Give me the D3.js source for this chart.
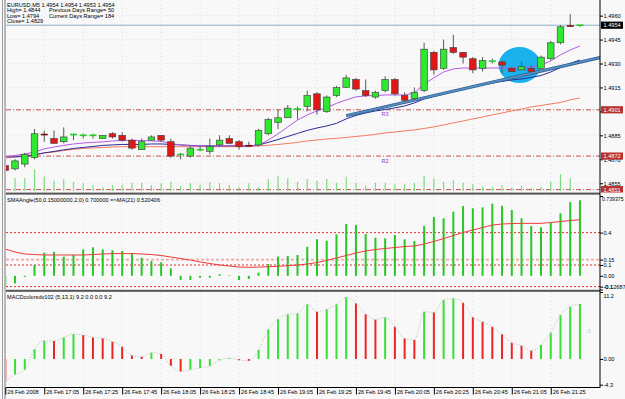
<!DOCTYPE html>
<html>
<head>
<meta charset="utf-8">
<script src="https://cdn.jsdelivr.net/npm/d3@7"></script>
<style>
body {margin:0; background:#f8f8f8;}
svg text {font-family:"Liberation Sans", Arial, sans-serif; font-size:5.6px; fill:#000;}
</style>
</head>
<body>
<svg width="625" height="399"></svg>
<script>
// --- data (EURUSD M5, 26 Feb 2008) ---
var opens  = [1.4866,1.4864,1.4867,1.4871,1.4886,1.4883,1.4881,1.4885,1.4885,1.4885,
              1.4883,1.4886,1.4885,1.4882,1.4876,1.4882,1.4885,1.4881,1.4873,1.4872,
              1.4876,1.4875,1.4879,1.4883,1.4881,1.4879,1.4879,1.4886,1.4893,1.4896,
              1.4901,1.4903,1.4911,1.4900,1.4910,1.4915,1.4920,1.4913,1.4909,1.4913,
              1.4920,1.4910,1.4908,1.4913,1.4937,1.4927,1.4940,1.4937,1.4933,1.4927,
              1.4931,1.4931,1.4927,1.4926,1.4927,1.4927,1.4933,1.4943,1.4954,1.4954];
var highs  = [1.4867,1.4870,1.4874,1.4889,1.4888,1.4888,1.4890,1.4886,1.4886,1.4886,
              1.4885,1.4887,1.4887,1.4883,1.4883,1.4885,1.4885,1.4883,1.4874,1.4878,
              1.4878,1.4883,1.4885,1.4885,1.4882,1.4881,1.4889,1.4896,1.4901,1.4904,
              1.4903,1.4913,1.4912,1.4910,1.4916,1.4923,1.4921,1.4920,1.4913,1.4922,
              1.4921,1.4912,1.4915,1.4943,1.4938,1.4945,1.4948,1.4937,1.4934,1.4934,
              1.4933,1.4932,1.4928,1.4931,1.4929,1.4935,1.4944,1.4954,1.4961,1.4954];
var lows   = [1.4862,1.4863,1.4865,1.4870,1.4881,1.4880,1.4880,1.4882,1.4883,1.4883,
              1.4883,1.4883,1.4881,1.4876,1.4876,1.4882,1.4881,1.4871,1.4870,1.4871,
              1.4875,1.4873,1.4878,1.4880,1.4876,1.4878,1.4878,1.4885,1.4889,1.4896,
              1.4895,1.4900,1.4898,1.4899,1.4909,1.4915,1.4913,1.4909,1.4908,1.4912,
              1.4910,1.4906,1.4907,1.4912,1.4923,1.4926,1.4936,1.4930,1.4924,1.4925,
              1.4930,1.4924,1.4925,1.4926,1.4925,1.4926,1.4932,1.4942,1.4953,1.4953];
var closes = [1.4863,1.4869,1.4873,1.4886,1.4885,1.4880,1.4884,1.4886,1.4885,1.4885,
              1.4885,1.4884,1.4882,1.4877,1.4881,1.4884,1.4882,1.4872,1.4873,1.4877,
              1.4876,1.4878,1.4882,1.4880,1.4878,1.4878,1.4888,1.4895,1.4896,1.4902,
              1.4902,1.4910,1.4901,1.4909,1.4915,1.4921,1.4914,1.4910,1.4912,1.4920,
              1.4911,1.4907,1.4912,1.4939,1.4926,1.4939,1.4937,1.4934,1.4926,1.4932,
              1.4932,1.4929,1.4925,1.4928,1.4925,1.4934,1.4943,1.4953,1.4953,1.4954];
var volumes = [57,52,52,87,57,41,47,37,31,24,15,24,24,33,33,24,31,37,20,31,
               24,35,31,24,17,31,17,47,60,51,37,48,40,48,33,57,33,21,33,33,
               27,28,33,61,51,37,44,33,27,17,17,24,15,21,13,17,37,68,51,4];
var maFast = [1.48715,1.48724,1.48733,1.48746,1.48765,1.48777,1.48787,1.48796,1.48802,1.48806,
              1.48809,1.48815,1.48818,1.48818,1.48818,1.48815,1.48812,1.48799,1.48790,1.48784,
              1.48784,1.48780,1.48784,1.48787,1.48787,1.48784,1.48787,1.48821,1.48859,1.48903,
              1.48946,1.48978,1.49003,1.49025,1.49050,1.49072,1.49091,1.49097,1.49100,1.49103,
              1.49103,1.49103,1.49116,1.49172,1.49210,1.49247,1.49266,1.49272,1.49272,1.49272,
              1.49272,1.49272,1.49272,1.49275,1.49279,1.49291,1.49316,1.49354,1.49385,1.49410];
var maMid  = [1.48715,1.48715,1.48718,1.48727,1.48740,1.48749,1.48759,1.48768,1.48774,1.48780,
              1.48787,1.48790,1.48793,1.48793,1.48793,1.48796,1.48796,1.48793,1.48790,1.48787,
              1.48784,1.48784,1.48784,1.48784,1.48784,1.48784,1.48790,1.48806,1.48824,1.48843,
              1.48862,1.48881,1.48896,1.48909,1.48925,1.48953,1.48975,1.48990,1.49003,1.49012,
              1.49022,1.49034,1.49053,1.49078,1.49094,1.49109,1.49125,1.49141,1.49153,1.49166,
              1.49178,1.49188,1.49197,1.49203,1.49213,1.49225,1.49247,1.49275,1.49301,1.49322];
var maSlow = [1.48708,1.48715,1.48721,1.48730,1.48740,1.48746,1.48755,1.48762,1.48768,1.48771,
              1.48774,1.48777,1.48779,1.48779,1.48779,1.48779,1.48779,1.48779,1.48779,1.48779,
              1.48779,1.48779,1.48779,1.48779,1.48779,1.48779,1.48784,1.48788,1.48793,1.48799,
              1.48806,1.48815,1.48821,1.48827,1.48831,1.48837,1.48843,1.48849,1.48856,1.48865,
              1.48871,1.48878,1.48884,1.48893,1.48903,1.48915,1.48928,1.48940,1.48953,1.48965,
              1.48978,1.48990,1.49003,1.49015,1.49028,1.49037,1.49047,1.49056,1.49072,1.49084];
var angle  = [-0.09,-0.07,-0.01,0.10,0.214,0.223,0.177,0.193,0.245,0.264,
              0.245,0.236,0.23,0.208,0.168,0.137,0.125,0.069,-0.039,-0.039,
              -0.018,-0.018,0.014,0.005,-0.039,-0.03,0.029,0.109,0.177,0.183,
              0.193,0.269,0.338,0.325,0.384,0.48,0.47,0.387,0.353,0.347,
              0.378,0.338,0.322,0.461,0.544,0.532,0.594,0.646,0.625,0.634,
              0.668,0.649,0.609,0.532,0.461,0.449,0.495,0.579,0.683,0.70];
var angleMA = [0.248,0.220,0.202,0.197,0.193,0.193,0.193,0.193,0.193,0.197,
               0.202,0.206,0.206,0.206,0.202,0.197,0.188,0.174,0.160,0.146,
               0.128,0.114,0.100,0.091,0.081,0.079,0.081,0.084,0.088,0.094,
               0.100,0.109,0.123,0.142,0.165,0.188,0.211,0.230,0.244,0.253,
               0.262,0.271,0.276,0.294,0.318,0.345,0.373,0.401,0.424,0.447,
               0.470,0.480,0.484,0.486,0.486,0.486,0.494,0.503,0.512,0.520];
var macd   = [-3.8,-2.6,-1.8,1.67,3.06,3.0,3.63,4.18,4.0,3.63,
              3.46,2.9,2.06,0.61,0.39,1.06,0.84,-1.17,-2.1,-1.8,
              -1.5,-1.2,-0.2,0.15,-0.2,-0.3,1.5,4.96,6.69,7.47,
              7.6,9.15,7.9,8.3,9.15,10.3,9.3,7.5,6.6,6.95,
              5.4,3.46,3.18,7.9,7.8,9.87,10.15,9.4,6.97,6.24,
              5.4,4.13,2.73,2.23,1.39,2.34,4.4,7.36,8.75,9.2];

var timeTickBars = [0,4,8,12,16,20,24,28,32,36,40,44,48,52,56];
var timeTickLabels = ["26 Feb 2008","26 Feb 17:05","26 Feb 17:25","26 Feb 17:45","26 Feb 18:05",
                      "26 Feb 18:25","26 Feb 18:45","26 Feb 19:05","26 Feb 19:25","26 Feb 19:45",
                      "26 Feb 20:05","26 Feb 20:25","26 Feb 20:45","26 Feb 21:05","26 Feb 21:25"];
var priceTicks = [1.4960,1.4945,1.4930,1.4915,1.4900,1.4885,1.4870,1.4855];
var priceTickLabels = ["1.4960","1.4945","1.4930","1.4915","","1.4885","1.4870","1.4855"];
var angleTicks = [0.739375,0.4,0.15,0.1,0,-0.1,-0.12687];
var angleTickLabels = ["0.739375","0.4","0.15","0.1","0.00","-0.1","-0.12687"];
var macdTicks = [11.2,0,-4.3];
var macdTickLabels = ["11.2","0.00","-4.3"];
var pivotLevels = [1.4901,1.4872,1.4851];
var pivotNames = ["R3","R2",""];
var bidPrice = 1.4954;
var trendFrom = {bar:35, price:1.48973}, trendTo = {bar:55, price:1.49253};
var marker = {bar:52.8, price:1.4929};
var headerLines = ["EURUSD,M5  1.4954 1.4954 1.4953 1.4954","High= 1.4844","Low= 1.4794","Close= 1.4829"];
var headerRight = ["","Previous Days Range= 50","Current Days Range= 184",""];

// --- layout ---
var svg = d3.select("svg");
var L = 6, R = 600;
var x = d3.scaleLinear().domain([0,59]).range([5.3, 5.3 + 59*9.74]);
var yMain = d3.scaleLinear().domain([1.48495,1.49698]).range([192,0]);
var yVol = d3.scaleLinear().domain([0,100]).range([191,166]);
var yAng = d3.scaleLinear().domain([-0.12687,0.739375]).range([289.5,196]);
var yMacd = d3.scaleLinear().domain([-4.3,11.2]).range([384.7,292]);
var idx = d3.range(opens.length);

svg.append("rect").attr("width",625).attr("height",399).attr("fill","#f8f8f8");
svg.append("clipPath").attr("id","plot").append("rect")
   .attr("x",L).attr("y",0).attr("width",R-L).attr("height",388);
svg.append("clipPath").attr("id","mainpanel").append("rect")
   .attr("x",0).attr("y",0).attr("width",625).attr("height",192.5);

// faint dotted grid
var grid = svg.append("g").attr("stroke","#dedede").attr("stroke-dasharray","1,3").attr("stroke-width",1);
timeTickBars.forEach(function(b){
  grid.append("line").attr("x1",x(b)).attr("x2",x(b)).attr("y1",0).attr("y2",387);
});
priceTicks.forEach(function(p){
  grid.append("line").attr("x1",L).attr("x2",R).attr("y1",yMain(p)).attr("y2",yMain(p));
});

var plot = svg.append("g").attr("clip-path","url(#plot)");

// marker ellipse (drawn behind price)
plot.append("ellipse").attr("cx",x(marker.bar)).attr("cy",yMain(marker.price))
    .attr("rx",21).attr("ry",18).attr("fill","#1ab2ea");

// bid line
plot.append("line").attr("x1",L).attr("x2",R).attr("y1",yMain(bidPrice)).attr("y2",yMain(bidPrice))
    .attr("stroke","#8fb0cc").attr("stroke-width",1);

// pivot levels
pivotLevels.forEach(function(p,i){
  plot.append("line").attr("x1",L).attr("x2",R).attr("y1",yMain(p)).attr("y2",yMain(p))
      .attr("stroke","#c85050").attr("stroke-width",1).attr("stroke-dasharray","5,2,1,2");
  if (pivotNames[i]) plot.append("text").attr("x",x(39)).attr("y",yMain(p)+6.5)
      .attr("text-anchor","middle").style("fill","#8a3ec8").text(pivotNames[i]);
});

// volumes
plot.selectAll(".vol").data(idx).enter().append("line")
    .attr("x1",function(i){return x(i);}).attr("x2",function(i){return x(i);})
    .attr("y1",yVol(0)).attr("y2",function(i){return yVol(volumes[i]);})
    .attr("stroke","#7ddc7d").attr("stroke-width",1.2);

// moving averages
function maLine(arr){ return d3.line().x(function(d,i){return x(i);}).y(function(d){return yMain(d);})(arr); }
plot.append("path").attr("d",maLine(maSlow)).attr("fill","none").attr("stroke","#f47a62").attr("stroke-width",1);
plot.append("path").attr("d",maLine(maMid)).attr("fill","none").attr("stroke","#2a2a96").attr("stroke-width",1);
plot.append("path").attr("d",maLine(maFast)).attr("fill","none").attr("stroke","#b45ae6").attr("stroke-width",1);

// trend line (ray to the right edge)
var slope = (trendTo.price - trendFrom.price)/(trendTo.bar - trendFrom.bar);
var endBar = x.invert(R);
plot.append("line").attr("x1",x(trendFrom.bar)).attr("y1",yMain(trendFrom.price))
    .attr("x2",R).attr("y2",yMain(trendFrom.price + slope*(endBar - trendFrom.bar)))
    .attr("stroke","#2a5f96").attr("stroke-width",3.2);
plot.append("line").attr("x1",x(trendFrom.bar)).attr("y1",yMain(trendFrom.price))
    .attr("x2",R).attr("y2",yMain(trendFrom.price + slope*(endBar - trendFrom.bar)))
    .attr("stroke","#5a90c4").attr("stroke-width",1.6);

// candles
var cg = plot.selectAll(".candle").data(idx).enter().append("g");
cg.append("line")
  .attr("x1",function(i){return x(i);}).attr("x2",function(i){return x(i);})
  .attr("y1",function(i){return yMain(highs[i]);}).attr("y2",function(i){return yMain(lows[i]);})
  .attr("stroke","#5a5a5a").attr("stroke-width",1);
cg.each(function(i){
  var g = d3.select(this);
  var top = yMain(Math.max(opens[i],closes[i])), bot = yMain(Math.min(opens[i],closes[i]));
  var up = closes[i] >= opens[i];
  if (bot - top < 2) {
    g.append("line").attr("x1",x(i)-3.5).attr("x2",x(i)+3.5)
     .attr("y1",(top+bot)/2).attr("y2",(top+bot)/2)
     .attr("stroke", up ? "#22d022" : "#7a0c0c").attr("stroke-width",1.6);
  } else {
    g.append("rect").attr("x",x(i)-3.3).attr("width",6.6).attr("y",top).attr("height",bot-top)
     .attr("fill", up ? "#2fe82f" : "#e31616").attr("stroke","#3c3c3c").attr("stroke-width",0.6);
  }
});

// indicator 1: SMAAngle histogram + MA(21)
var ag = svg.append("g").attr("clip-path","url(#plot)");
[[0.4,"#e03030",1,"2,2"],[0.15,"#f2a8a8",1.6,"3,2"],[0.1,"#e03030",1,"2,2"],[-0.1,"#e03030",1,"2,2"]].forEach(function(l){
  ag.append("line").attr("x1",L).attr("x2",R).attr("y1",yAng(l[0])).attr("y2",yAng(l[0]))
    .attr("stroke",l[1]).attr("stroke-width",l[2]).attr("stroke-dasharray",l[3]);
});
ag.selectAll(".ab").data(idx).enter().append("line")
  .attr("x1",function(i){return x(i);}).attr("x2",function(i){return x(i);})
  .attr("y1",yAng(0)).attr("y2",function(i){return yAng(angle[i]);})
  .attr("stroke","#26c626").attr("stroke-width",2);
ag.append("path").attr("d",d3.line().x(function(d,i){return x(i);}).y(function(d){return yAng(d);})(angleMA))
  .attr("fill","none").attr("stroke","#ee3a3a").attr("stroke-width",1);

// indicator 2: MACD colored histogram
var mg = svg.append("g").attr("clip-path","url(#plot)");
mg.selectAll(".mb").data(idx).enter().append("line")
  .attr("x1",function(i){return x(i);}).attr("x2",function(i){return x(i);})
  .attr("y1",yMacd(0)).attr("y2",function(i){return yMacd(macd[i]);})
  .attr("stroke",function(i){return i > 0 && macd[i] >= macd[i-1] ? "#36e036" : "#ee2424";})
  .attr("stroke-width",2);
mg.append("path").attr("d",d3.line().x(function(d,i){return x(i);}).y(function(d){return yMacd(d);}).curve(d3.curveMonotoneX)(macd))
  .attr("fill","none").attr("stroke","#c4c4c4").attr("stroke-width",1).attr("stroke-dasharray","1.2,1.6");
mg.append("text").attr("x",586).attr("y",yMacd(4.3)).style("fill","#c8c8c8").text("-3");

// axes text helpers
function rightAxis(scale, ticks, labels){
  var g = svg.append("g").attr("transform","translate(" + R + ",0)")
    .call(d3.axisRight(scale).tickValues(ticks).tickSize(3)
      .tickFormat(function(d,i){ return labels[i]; }));
  g.select(".domain").remove();
  g.selectAll("text").attr("x",3.5).style("font-family","Liberation Sans, Arial").style("font-size","5.6px");
  return g;
}
rightAxis(yMain, priceTicks, priceTickLabels);
var a2 = rightAxis(yAng, angleTicks, angleTickLabels);
a2.selectAll("text")
  .attr("dy",function(d){ return d > 0.7 ? "0.8em" : (d < -0.11 ? "-0.2em" : "0.32em"); })
  .attr("x",function(d){ return d > 0.7 ? 2 : 3.5; })
  .style("font-size",function(d){ return d > 0.7 ? "5.2px" : "5.6px"; });
var a3 = rightAxis(yMacd, macdTicks, macdTickLabels);
a3.selectAll("text").attr("dy",function(d){ return d > 11 ? "0.95em" : "0.32em"; });

// price boxes (clipped to the main panel)
var boxes = svg.append("g").attr("clip-path","url(#mainpanel)");
function priceBox(p, fill){
  var yy = yMain(p);
  boxes.append("rect").attr("x",R+1).attr("y",yy-3.6).attr("width",22).attr("height",7.2).attr("fill",fill);
  boxes.append("text").attr("x",R+3.5).attr("y",yy+2).style("fill","#fff").text(d3.format(".4f")(p));
}
priceBox(bidPrice,"#000");
pivotLevels.forEach(function(p){ priceBox(p,"#b83030"); });

// frame, separators
svg.append("line").attr("x1",2.5).attr("x2",2.5).attr("y1",0).attr("y2",399).attr("stroke","#9a9a9a");
svg.append("line").attr("x1",5).attr("x2",5).attr("y1",0).attr("y2",399).attr("stroke","#7a7a7a");
[193.6,290.8].forEach(function(yy){
  svg.append("rect").attr("x",L).attr("y",yy-1).attr("width",R-L).attr("height",2).attr("fill","#555");
});
svg.append("line").attr("x1",R).attr("x2",R).attr("y1",0).attr("y2",388).attr("stroke","#000");
svg.append("line").attr("x1",L).attr("x2",R).attr("y1",387.5).attr("y2",387.5).attr("stroke","#000");

// time axis
var tx = svg.append("g").attr("transform","translate(0,387.5)")
  .call(d3.axisBottom(x).tickValues(timeTickBars).tickSize(7)
    .tickFormat(function(d,i){ return timeTickLabels[i]; }));
tx.select(".domain").remove();
tx.selectAll("text").attr("text-anchor","start").attr("x",1.5).attr("y",2.5).attr("dy","0.71em")
  .style("font-family","Liberation Sans, Arial").style("font-size","5.6px");

// titles
headerLines.forEach(function(t,i){ svg.append("text").attr("x",7).attr("y",6.7+5.4*i).text(t); });
headerRight.forEach(function(t,i){ if (t) svg.append("text").attr("x",49).attr("y",6.7+5.4*i).text(t); });
svg.append("text").attr("x",7).attr("y",201.5).text("SMAAngle(50,0.15000000,2,0) 0.700000   =>MA(21) 0.520406");
svg.append("text").attr("x",7).attr("y",298.5).text("MACDcolorsdv102 (5,13,1) 9.2 0.0 0.0 9.2");
</script>
</body>
</html>
